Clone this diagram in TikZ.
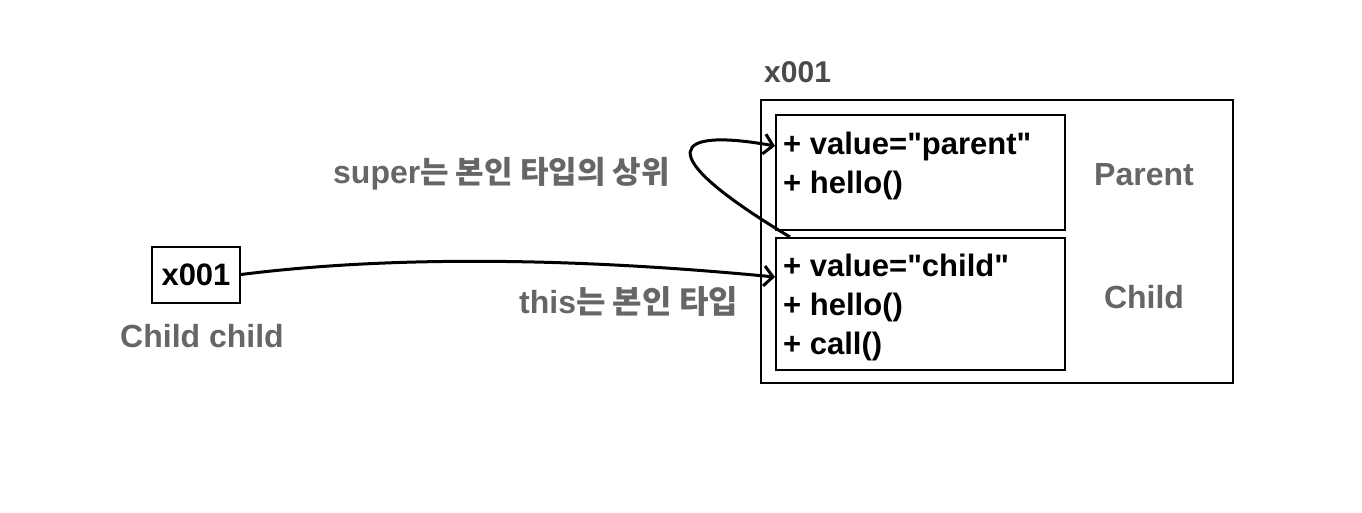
\documentclass[tikz,border=0pt]{standalone}
\usepackage{fontspec}
\setmainfont{Liberation Sans}
\newfontfamily\codefont{Liberation Sans}
\newfontfamily\kr{Noto Sans CJK KR}
\usetikzlibrary{arrows.meta,calc}
\definecolor{labelgray}{HTML}{666666}
\definecolor{titlegray}{HTML}{4A4A4A}
\tikzset{
  box/.style={draw=black, line width=2.4pt, inner sep=0pt, anchor=north west},
  code/.style={font=\codefont\fontsize{31}{36}\selectfont\bfseries, anchor=base west, inner sep=0pt, text=black},
  glabel/.style={font=\fontsize{32}{36}\selectfont\bfseries, text=labelgray, inner sep=0pt, anchor=base},
  conn/.style={line width=3pt, -{Straight Barb[length=9pt,width=20pt,line width=3pt]}},
}
\begin{document}
\begin{tikzpicture}[x=1pt,y=-1pt]
\useasboundingbox (0,0) rectangle (1362,512);
\fill[white] (0,0) rectangle (1362,512);
% outer object box
\node[box, line width=2pt, minimum width=472pt, minimum height=283pt] (obj) at (760,99) {};
\node[font=\fontsize{30}{36}\selectfont\bfseries, text=titlegray, anchor=base west, inner sep=0pt] (addr) at (764,82) {x001};
% parent part
\node[box, minimum width=289pt, minimum height=115pt] (parent) at (775,114) {};
\node[code] (p1) at (783,154) {+ value="parent"};
\node[code] (p2) at (783,193) {+ hello()};
\node[glabel] (plabel) at (1144,185) {Parent};
% child part
\node[box, minimum width=289pt, minimum height=132pt] (child) at (775,237) {};
\node[code] (c1) at (783,276) {+ value="child"};
\node[code] (c2) at (783,315) {+ hello()};
\node[code] (c3) at (783,354) {+ call()};
\node[glabel] (clabel) at (1144,308) {Child};
% reference variable
\node[draw, line width=2pt, minimum width=88pt, minimum height=56pt, inner sep=0pt] (var) at (196,274.5) {};
\node[font=\fontsize{31}{36}\selectfont\bfseries, anchor=base, inner sep=0pt] (vartext) at (196,285) {x001};
\node[glabel] (vlabel) at (202,347) {Child child};
% labels
\node[glabel, anchor=base west] (superlbl) at (333,183) {super{\kr\bfseries\fontsize{31}{36}\selectfont 는 본인 타입의 상위}};
\node[glabel, anchor=base west] (thislbl) at (519,313) {this{\kr\bfseries 는 본인 타입}};
% connectors
\draw[conn] (var.east) .. controls (420,252) and (620,262) .. ($(child.north west)+(0,40)$);
\draw[conn] ($(child.north west)+(15,0)$) .. controls (645,150) and (675,128) .. ($(parent.north west)+(0,32)$);
\end{tikzpicture}
\end{document}
